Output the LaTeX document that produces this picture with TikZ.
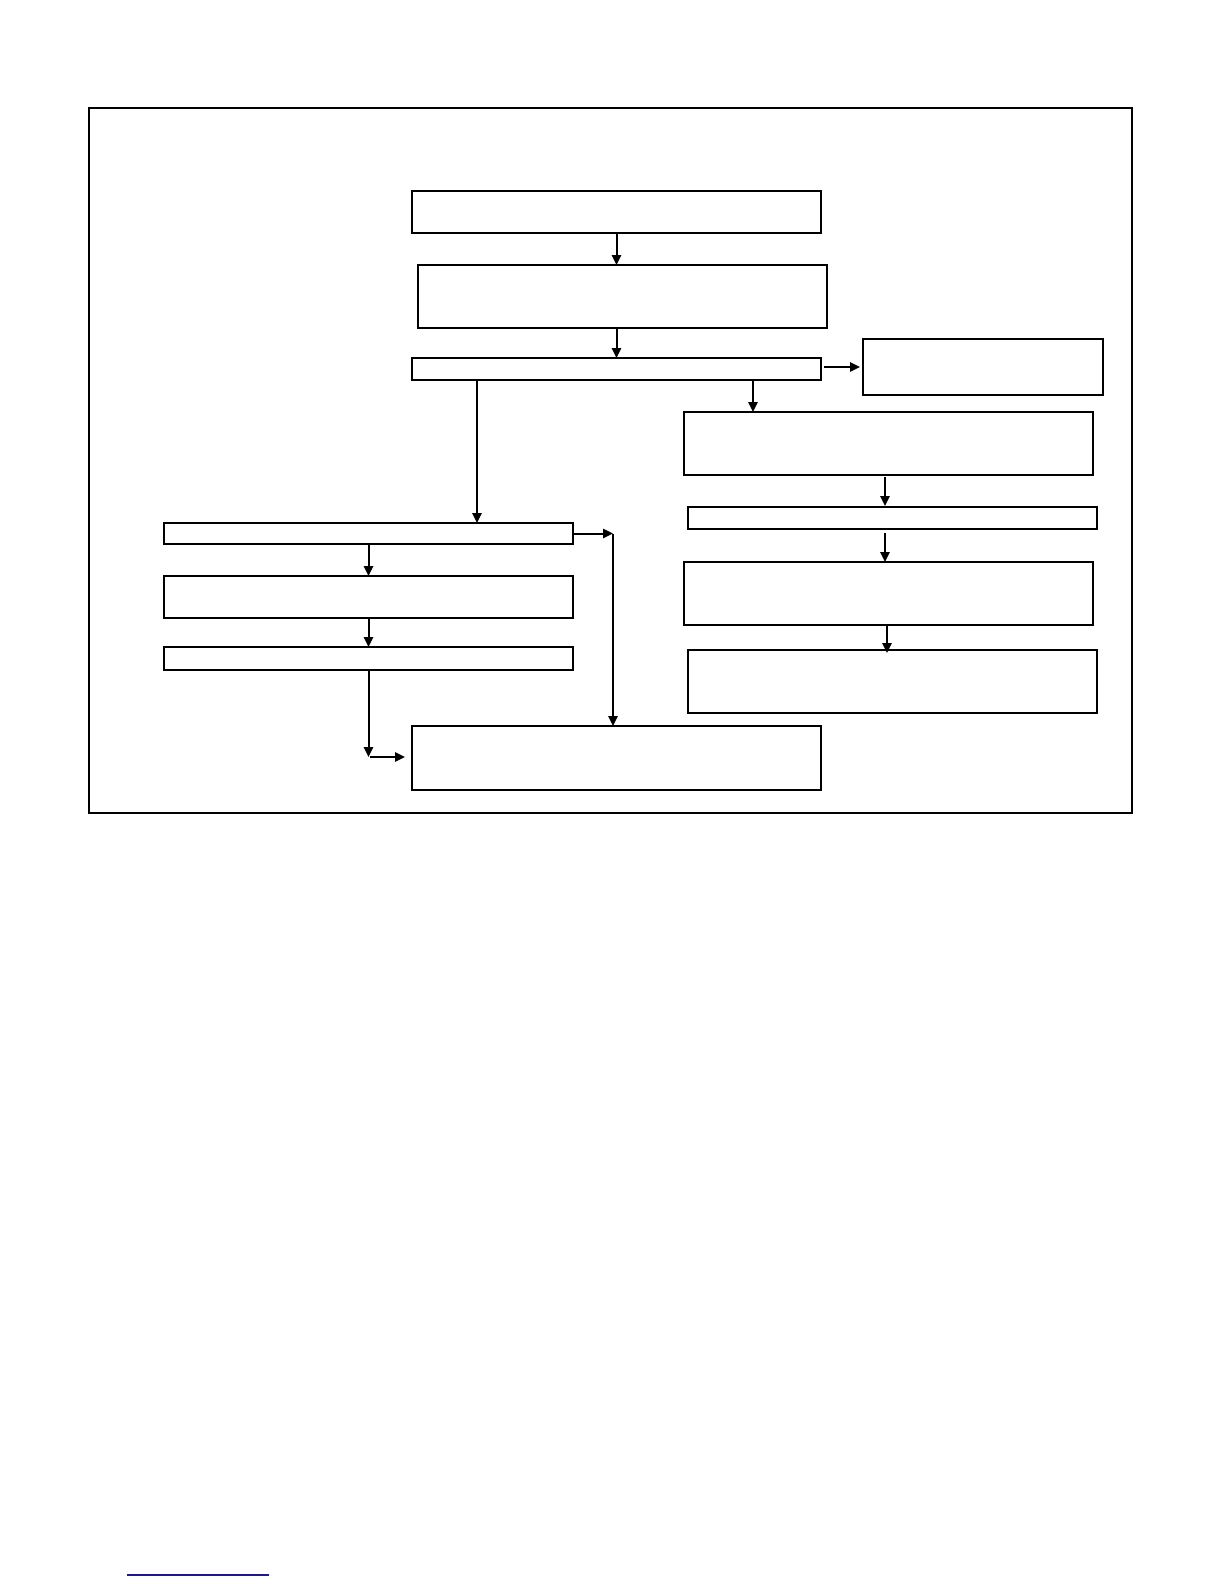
\documentclass[tikz,border=0pt]{standalone}
\usetikzlibrary{arrows.meta,calc}
\definecolor{linkblue}{RGB}{25,25,150}
\tikzset{
  box/.style={draw, line width=1pt, inner sep=0pt, outer sep=0pt, fill=white},
  arr/.style={line width=1pt, -{Triangle[length=5pt,width=4.6pt]}},
  plain/.style={line width=1pt}
}
\begin{document}
\begin{tikzpicture}[x=0.5pt,y=-0.5pt]
\useasboundingbox (0,0) rectangle (1224,1584);
\fill[white] (0,0) rectangle (1224,1584);
% frame
\node[box, fill=none, minimum width=521.5pt, minimum height=352.5pt] (frame) at (610.5,460.5) {};
% boxes
\node[box, minimum width=204.5pt, minimum height=21pt]   (A)  at (616.5,212) {};
\node[box, minimum width=204.5pt, minimum height=31.5pt] (B)  at (622.5,296.5) {};
\node[box, minimum width=204.5pt, minimum height=11pt]   (C)  at (616.5,369) {};
\node[box, minimum width=120pt,   minimum height=28pt]   (D)  at (983,367) {};
\node[box, minimum width=204.5pt, minimum height=31.5pt] (E)  at (888.5,443.5) {};
\node[box, minimum width=204.5pt, minimum height=11pt]   (F)  at (892.5,518) {};
\node[box, minimum width=204.5pt, minimum height=31.5pt] (G)  at (888.5,593.5) {};
\node[box, minimum width=204.5pt, minimum height=31.5pt] (H)  at (892.5,681.5) {};
\node[box, minimum width=204.5pt, minimum height=10.5pt] (L1) at (368.5,533.5) {};
\node[box, minimum width=204.5pt, minimum height=21pt]   (L2) at (368.5,597) {};
\node[box, minimum width=204.5pt, minimum height=11.5pt] (L3) at (368.5,658.5) {};
\node[box, minimum width=204.5pt, minimum height=32pt]   (M)  at (616.5,758) {};
% connectors
\draw[arr] (A.south) -- (A.south |- B.north);
\draw[arr] (B.south -| C.north) -- (C.north);
\draw[arr] ([xshift=1.5pt]C.east |- D.west) -- ([xshift=-1.5pt]D.west);
\draw[arr] ([xshift=68.25pt]C.south) coordinate (ce) -- (ce |- E.north);
\draw[arr] ([xshift=-69.75pt]C.south) coordinate (cl) -- (cl |- L1.north);
\draw[arr] ([xshift=-1.75pt,yshift=-1pt]E.south) coordinate (ef) -- ([yshift=0.5pt]ef |- F.north);
\draw[arr] ([xshift=-3.75pt,yshift=-2pt]F.south) coordinate (fg) -- (fg |- G.north);
\draw[arr, shorten >=-1.5pt] ([xshift=-0.75pt]G.south) coordinate (gh) -- (gh |- H.north);
\draw[arr] (L1.south) -- (L1.south |- L2.north);
\draw[arr] (L2.south) -- (L2.south |- L3.north);
\coordinate (m1) at ($(L3.south |- M.west)+(0,-1)$);
\draw[arr] (L3.south) -- (m1);
\draw[arr] ([xshift=0.5pt]m1) -- ([xshift=-3.5pt]m1 -| M.west);
\coordinate (k) at ([xshift=20pt]L1.east);
\draw[arr] (L1.east) -- (k);
\draw[arr] (k) -- (k |- M.north);
% link underline
\draw[linkblue, line width=0.6pt] (127,1575) -- (269,1575);
\end{tikzpicture}
\end{document}
